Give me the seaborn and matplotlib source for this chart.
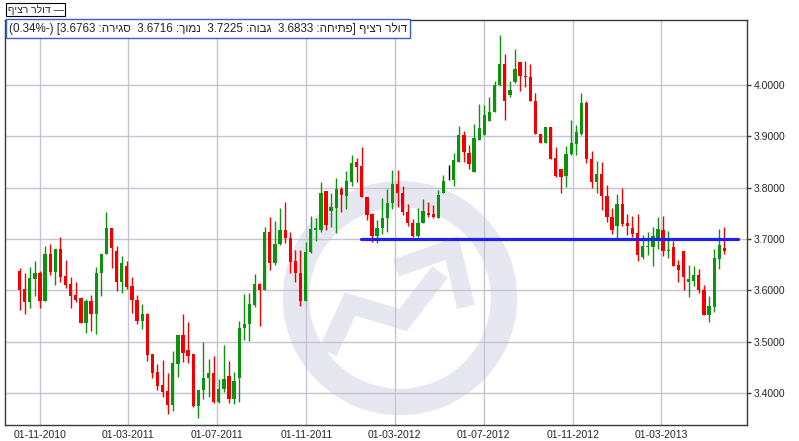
import pandas as pd
import matplotlib.pyplot as plt
import matplotlib.dates as mdates
from matplotlib.patches import Circle
import numpy as np
import seaborn as sns

# weekly candles, USD/ILS ("dollar continuous")
start = '2010-10-04'
opens = [3.638, 3.602, 3.577, 3.622, 3.634, 3.580, 3.671, 3.636, 3.681, 3.628,
         3.612, 3.590, 3.585, 3.536, 3.580, 3.554, 3.633, 3.670, 3.722, 3.677,
         3.616, 3.648, 3.609, 3.581, 3.541, 3.554, 3.475, 3.440, 3.416, 3.403,
         3.377, 3.457, 3.512, 3.483, 3.475, 3.375, 3.406, 3.430, 3.439, 3.382,
         3.408, 3.434, 3.389, 3.430, 3.527, 3.534, 3.571, 3.612, 3.601, 3.714,
         3.653, 3.690, 3.718, 3.701, 3.657, 3.633, 3.579, 3.675, 3.717, 3.718,
         3.794, 3.755, 3.760, 3.797, 3.784, 3.812, 3.851, 3.842, 3.781, 3.749,
         3.705, 3.721, 3.740, 3.770, 3.808, 3.790, 3.753, 3.732, 3.705, 3.732,
         3.751, 3.749, 3.740, 3.790, 3.814, 3.814, 3.850, 3.902, 3.868, 3.830,
         3.892, 3.903, 3.930, 3.948, 4.000, 4.040, 3.981, 4.005, 4.045, 4.018,
         4.015, 3.969, 3.905, 3.887, 3.919, 3.858, 3.837, 3.822, 3.866, 3.886,
         3.904, 3.965, 3.855, 3.811, 3.827, 3.784, 3.743, 3.726, 3.769, 3.732,
         3.721, 3.712, 3.665, 3.684, 3.684, 3.696, 3.717, 3.676, 3.684, 3.650,
         3.677, 3.616, 3.618, 3.629, 3.601, 3.552, 3.568, 3.661, 3.6833]
highs = [3.643, 3.634, 3.646, 3.657, 3.638, 3.687, 3.691, 3.681, 3.703, 3.659,
         3.625, 3.616, 3.587, 3.583, 3.590, 3.646, 3.671, 3.753, 3.722, 3.686,
         3.666, 3.658, 3.626, 3.591, 3.573, 3.556, 3.475, 3.457, 3.465, 3.439,
         3.481, 3.512, 3.554, 3.539, 3.475, 3.406, 3.499, 3.467, 3.473, 3.428,
         3.493, 3.462, 3.441, 3.540, 3.592, 3.594, 3.631, 3.614, 3.723, 3.743,
         3.735, 3.760, 3.772, 3.714, 3.679, 3.678, 3.694, 3.745, 3.740, 3.812,
         3.794, 3.790, 3.818, 3.802, 3.833, 3.864, 3.857, 3.879, 3.781, 3.751,
         3.737, 3.779, 3.797, 3.834, 3.834, 3.803, 3.768, 3.738, 3.760, 3.777,
         3.772, 3.766, 3.796, 3.825, 3.845, 3.868, 3.920, 3.910, 3.883, 3.925,
         3.963, 3.961, 3.977, 4.008, 4.098, 4.060, 4.007, 4.070, 4.045, 4.047,
         4.040, 3.984, 3.905, 3.919, 3.919, 3.879, 3.837, 3.881, 3.932, 3.922,
         3.985, 3.969, 3.872, 3.852, 3.850, 3.806, 3.761, 3.788, 3.800, 3.748,
         3.745, 3.748, 3.707, 3.713, 3.724, 3.743, 3.745, 3.715, 3.697, 3.659,
         3.677, 3.650, 3.647, 3.642, 3.610, 3.588, 3.681, 3.719, 3.7225]
lows = [3.562, 3.554, 3.565, 3.588, 3.566, 3.580, 3.630, 3.610, 3.617, 3.605,
        3.566, 3.577, 3.536, 3.516, 3.520, 3.515, 3.589, 3.670, 3.644, 3.599,
        3.594, 3.602, 3.555, 3.535, 3.524, 3.463, 3.429, 3.406, 3.393, 3.360,
        3.365, 3.431, 3.460, 3.458, 3.373, 3.351, 3.388, 3.392, 3.380, 3.380,
        3.402, 3.380, 3.379, 3.382, 3.503, 3.501, 3.567, 3.530, 3.601, 3.640,
        3.649, 3.688, 3.692, 3.634, 3.616, 3.569, 3.579, 3.672, 3.697, 3.714,
        3.718, 3.723, 3.712, 3.753, 3.758, 3.803, 3.812, 3.781, 3.737, 3.695,
        3.692, 3.710, 3.714, 3.758, 3.763, 3.747, 3.726, 3.703, 3.703, 3.732,
        3.742, 3.740, 3.740, 3.790, 3.814, 3.803, 3.850, 3.851, 3.837, 3.830,
        3.892, 3.902, 3.930, 3.947, 3.999, 3.932, 3.976, 4.003, 3.989, 3.997,
        3.968, 3.905, 3.887, 3.887, 3.855, 3.821, 3.789, 3.802, 3.863, 3.863,
        3.902, 3.848, 3.800, 3.789, 3.757, 3.733, 3.709, 3.700, 3.726, 3.708,
        3.703, 3.658, 3.661, 3.668, 3.647, 3.681, 3.666, 3.663, 3.648, 3.616,
        3.601, 3.587, 3.608, 3.594, 3.552, 3.539, 3.558, 3.642, 3.6716]
closes = [3.601, 3.577, 3.624, 3.634, 3.580, 3.671, 3.635, 3.681, 3.626, 3.610,
          3.589, 3.582, 3.536, 3.580, 3.554, 3.634, 3.671, 3.722, 3.682, 3.616,
          3.653, 3.607, 3.581, 3.541, 3.554, 3.474, 3.439, 3.414, 3.401, 3.377,
          3.458, 3.512, 3.477, 3.473, 3.375, 3.406, 3.430, 3.439, 3.382, 3.408,
          3.428, 3.389, 3.423, 3.527, 3.534, 3.573, 3.612, 3.601, 3.714, 3.653,
          3.690, 3.718, 3.701, 3.655, 3.633, 3.579, 3.675, 3.719, 3.721, 3.790,
          3.727, 3.763, 3.797, 3.786, 3.813, 3.849, 3.841, 3.781, 3.747, 3.705,
          3.721, 3.740, 3.771, 3.808, 3.789, 3.753, 3.731, 3.706, 3.732, 3.755,
          3.746, 3.742, 3.786, 3.813, 3.814, 3.853, 3.903, 3.870, 3.847, 3.896,
          3.917, 3.941, 3.947, 4.001, 4.040, 3.968, 3.991, 4.032, 4.017, 4.015,
          3.968, 3.905, 3.887, 3.919, 3.855, 3.822, 3.821, 3.866, 3.887, 3.909,
          3.965, 3.855, 3.811, 3.827, 3.783, 3.742, 3.717, 3.768, 3.730, 3.725,
          3.710, 3.668, 3.687, 3.687, 3.705, 3.719, 3.676, 3.679, 3.648, 3.639,
          3.625, 3.623, 3.629, 3.600, 3.552, 3.569, 3.663, 3.689, 3.6763]

# support line drawn by hand on the chart
level_dates = ['2012-01-15', '2013-06-14']
level_values = [3.70, 3.70]

x_ticks = pd.date_range('2010-11-01', '2013-03-01', freq='4MS')
y_ticks = [3.4, 3.5, 3.6, 3.7, 3.8, 3.9, 4.0]

name = 'דולר רציף'
last_change = -0.34

df = pd.DataFrame({'date': pd.date_range(start, periods=len(opens), freq='7D'),
                   'open': opens, 'high': highs, 'low': lows, 'close': closes})

sns.set_style('white')
plt.rcParams['font.family'] = ['Liberation Sans', 'DejaVu Sans']

fig = plt.figure(figsize=(7.99, 4.41), dpi=100)
fig.patch.set_facecolor('white')

# watermark logo behind the chart
wm = '#e7e7f2'
wax = fig.add_axes([0, 0, 1, 1], zorder=0)
wax.set_xlim(0, 799)
wax.set_ylim(441, 0)
wax.axis('off')
wax.add_patch(Circle((400, 298), 104, fill=False, lw=19, ec=wm))
wax.plot([328, 350, 403, 440], [352, 304, 320, 272], color=wm, lw=14,
         solid_joinstyle='miter', solid_capstyle='butt')
wax.plot([396, 452, 466], [268, 248, 307], color=wm, lw=13,
         solid_joinstyle='miter', solid_capstyle='butt')

ax = fig.add_axes([5 / 799, 16 / 441, 742 / 799, 405 / 441], zorder=1)
ax.set_facecolor('none')

red, green = '#f20000', '#0d920d'
cols = np.where(df['close'] > df['open'], green, red)
cols = np.where(np.isclose(df['close'], df['open']), 'black', cols)

ax.vlines(df['date'], df['low'], df['high'], colors=cols, lw=1, zorder=3)
body = (df['close'] - df['open']).abs().clip(lower=0.0018)
ax.bar(df['date'], body, bottom=df[['open', 'close']].min(axis=1),
       width=4.5, color=cols, lw=0, zorder=4)

lv = pd.DataFrame({'date': pd.to_datetime(level_dates), 'v': level_values})
sns.lineplot(data=lv, x='date', y='v', color='#1f1ff0', lw=2.3, ax=ax, zorder=5)

ax.set_xlim(pd.Timestamp('2010-09-14'), pd.Timestamp('2013-06-27'))
ax.set_ylim(3.3376, 4.1267)
ax.set_xticks(x_ticks)
ax.xaxis.set_major_formatter(mdates.DateFormatter('%d-%m-%Y'))
ax.yaxis.tick_right()
ax.set_yticks(y_ticks)
ax.set_yticklabels([f'{v:.4f}' for v in y_ticks])
ax.set_xlabel('')
ax.set_ylabel('')
ax.grid(True, color='#c4c4d2', lw=1)
ax.set_axisbelow(True)
ax.tick_params(axis='x', length=3, width=1, color='#404040', labelsize=7.5, pad=0.5)
ax.tick_params(axis='y', length=3, width=1, color='#404040', labelsize=7.5, pad=2,
               right=True, left=False)
for s in ax.spines.values():
    s.set_color('#3a3a3a')
    s.set_linewidth(1)
    s.set_visible(True)

# hebrew strings are written in visual order (matplotlib does no bidi)
def vis(t):
    return t[::-1]

fig.text(8 / 799, 1 - 9.5 / 441, vis(name) + ' —', fontsize=7.5, va='center', ha='left',
         bbox=dict(boxstyle='square,pad=0.15', fc='white', ec='black', lw=0.8))

info = (f'({abs(last_change):.2f}%-) [{closes[-1]:.4f} :{vis("סגירה")}  '
        f'{lows[-1]:.4f} :{vis("נמוך")}  {highs[-1]:.4f} :{vis("גבוה")}  '
        f'{opens[-1]:.4f} :{vis("פתיחה")}] {vis(name)}')
fig.text(9 / 799, 1 - 28.5 / 441, info, fontsize=8.4, va='center', ha='left', zorder=10,
         bbox=dict(boxstyle='square,pad=0.25', fc='white', ec='#3b5fd0', lw=1))

fig.savefig('out.png', dpi=100)
